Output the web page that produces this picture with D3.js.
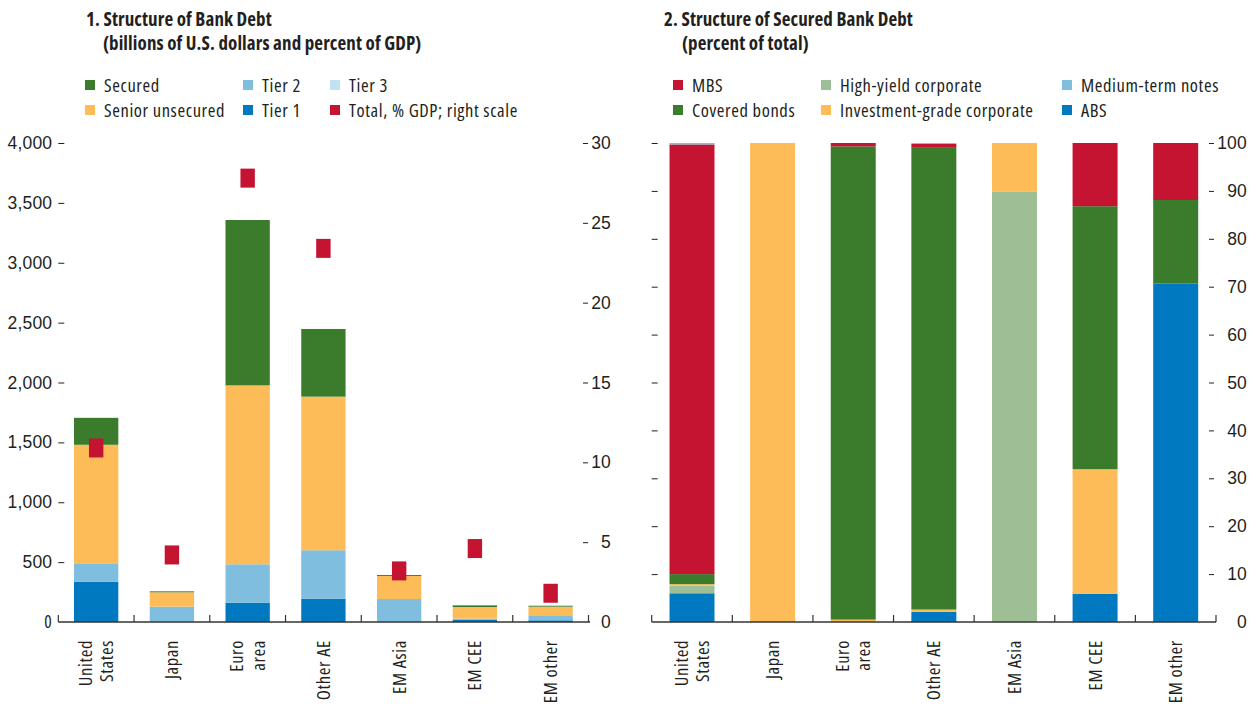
<!DOCTYPE html>
<html lang="en">
<head>
    <meta charset="UTF-8">
    <title>Structure of Bank Debt</title>
    <script src="https://cdn.jsdelivr.net/npm/d3@7"></script>
    <style>
        body { margin: 0; background: #fff; }
        svg text { fill: #231f20; }
        .axis path.domain { display: none; }
        .axis line { stroke: #231f20; }
        .title { font-weight: bold; font-size: 19px; letter-spacing: 0.1px; }
        .legend text, .xlab { font-size: 18.5px; letter-spacing: 0.6px; }
        .tick text { font-size: 17.5px; letter-spacing: 0.2px; }
    </style>
</head>
<body>
<div id="charts"></div>
<script>
    // ---- data ----
    const categories = ["United States", "Japan", "Euro area", "Other AE", "EM Asia", "EM CEE", "EM other"];
    const categoryLines = [["United", "States"], ["Japan"], ["Euro", "area"], ["Other AE"], ["EM Asia"], ["EM CEE"], ["EM other"]];

    // panel 1: billions of U.S. dollars
    const tier1 = [335, 2, 160, 195, 3, 17, 14];
    const tier2 = [155, 126, 322, 404, 189, 11, 36];
    const tier3 = [0, 0, 0, 0, 0, 0, 0];
    const seniorUnsecured = [990, 120, 1494, 1283, 192, 97, 78];
    const secured = [225, 8, 1381, 565, 8, 14, 8];
    const totalGDP = [10.9, 4.2, 27.8, 23.4, 3.2, 4.6, 1.8]; // right scale, % of GDP

    // panel 2: percent of total
    const abs = [6.0, 0, 0, 2.1, 0, 5.9, 70.7];
    const highYield = [1.6, 0, 0, 0, 89.8, 0, 0];
    const investmentGrade = [0.3, 100, 0.5, 0.5, 10.2, 26.0, 0];
    const coveredBonds = [2.1, 0, 98.8, 96.4, 0, 54.9, 17.4];
    const mbs = [89.7, 0, 0.7, 0.8, 0, 13.2, 11.9];
    const mediumTermNotes = [0.3, 0, 0, 0.2, 0, 0, 0];

    const leftTicks = [0, 500, 1000, 1500, 2000, 2500, 3000, 3500, 4000];
    const gdpTicks = [0, 5, 10, 15, 20, 25, 30];
    const pctTicks = [0, 10, 20, 30, 40, 50, 60, 70, 80, 90, 100];

    const colors = {
        green: "#3a7b2c", orange: "#fdbc58", lightBlue: "#80bee0", paleBlue: "#c2e1f1",
        blue: "#0079c1", red: "#c41431", sage: "#9ebe96"
    };

    const svg = d3.select("#charts").append("svg")
        .attr("width", 1259).attr("height", 704);

    // pick a condensed sans that is really installed (no web fonts here)
    (function pickFont() {
        const probe = svg.append("text").style("font-size", "20px").text("Senior unsecured corporate");
        const opts = ["'Noto Sans'", "'Open Sans'", "'DejaVu Sans'"];
        let fam = "'Liberation Sans', Arial, sans-serif", ok = false;
        for (const f of opts) {
            probe.style("font-family", f).style("font-stretch", "normal");
            const w0 = probe.node().getComputedTextLength();
            probe.style("font-stretch", "condensed");
            const w1 = probe.node().getComputedTextLength();
            if (w1 < 0.93 * w0) { fam = f + ", sans-serif"; ok = true; break; }
        }
        probe.remove();
        svg.style("font-family", fam).style("font-stretch", ok ? "condensed" : "normal");
    })();

    const yTop = 143, yBase = 622;

    // ---- helpers ----
    function title(x, y, l1, l2, indent) {
        svg.append("text").attr("class", "title").attr("x", x).attr("y", y).text(l1);
        svg.append("text").attr("class", "title").attr("x", x + indent).attr("y", y + 24).text(l2);
    }

    function legend(items) {
        const g = svg.append("g").attr("class", "legend");
        items.forEach(d => {
            g.append("rect").attr("x", d.x).attr("y", d.y - 5).attr("width", 10).attr("height", 10).attr("fill", d.color);
            g.append("text").attr("x", d.x + 19).attr("y", d.y + 6.5).text(d.label);
        });
    }

    function stacked(x, y, series) {
        const rows = categories.map((c, i) => {
            const r = { cat: c };
            series.forEach(s => r[s.key] = s.values[i]);
            return r;
        });
        const stack = d3.stack().keys(series.map(s => s.key))(rows);
        const g = svg.append("g");
        stack.forEach((layer, li) => {
            g.selectAll(null).data(layer).join("rect")
                .attr("x", d => x(d.data.cat))
                .attr("width", x.bandwidth())
                .attr("y", d => y(d[1]))
                .attr("height", d => Math.max(0, y(d[0]) - y(d[1])))
                .attr("fill", series[li].color);
        });
    }

    function baseline(x, x0, x1) {
        const g = svg.append("g").attr("stroke", "#333").attr("fill", "none");
        g.append("line").attr("x1", x0).attr("x2", x1).attr("y1", yBase).attr("y2", yBase).attr("stroke-width", 1.5);
        const bounds = d3.range(categories.length + 1).map(i => x.range()[0] + i * x.step());
        g.selectAll(null).data(bounds).join("line")
            .attr("x1", d => d).attr("x2", d => d)
            .attr("y1", yBase).attr("y2", yBase - 7).attr("stroke-width", 1.2);
    }

    function xLabels(x) {
        categories.forEach((c, i) => {
            const lines = categoryLines[i];
            const t = svg.append("text").attr("class", "xlab")
                .attr("text-anchor", "end")
                .attr("transform", "translate(" + (x(c) + x.bandwidth() / 2) + ",640) rotate(-90)");
            lines.forEach((l, j) => {
                const off = (j - (lines.length - 1) / 2) * 21.5;
                t.append("tspan").attr("x", 0).attr("y", off).attr("dy", "0.35em").text(l);
            });
        });
    }

    // ================= panel 1 =================
    title(86, 26, "1. Structure of Bank Debt", "(billions of U.S. dollars and percent of GDP)", 17);
    legend([
        { x: 85, y: 85, color: colors.green, label: "Secured" },
        { x: 85, y: 110, color: colors.orange, label: "Senior unsecured" },
        { x: 243, y: 85, color: colors.lightBlue, label: "Tier 2" },
        { x: 243, y: 110, color: colors.blue, label: "Tier 1" },
        { x: 330, y: 85, color: colors.paleBlue, label: "Tier 3" },
        { x: 330, y: 110, color: colors.red, label: "Total, % GDP; right scale" }
    ]);

    const x1 = d3.scaleBand().domain(categories).range([58.3, 588.5]).paddingInner(0.415).paddingOuter(0.2075);
    const y1 = d3.scaleLinear().domain([0, 4000]).range([yBase, yTop]);
    const y1r = d3.scaleLinear().domain([0, 30]).range([yBase, yTop]);

    stacked(x1, y1, [
        { key: "tier1", values: tier1, color: colors.blue },
        { key: "tier2", values: tier2, color: colors.lightBlue },
        { key: "tier3", values: tier3, color: colors.paleBlue },
        { key: "senior", values: seniorUnsecured, color: colors.orange },
        { key: "secured", values: secured, color: colors.green }
    ]);

    // total % of GDP markers
    svg.append("g").selectAll("rect").data(totalGDP).join("rect")
        .attr("x", (d, i) => x1(categories[i]) + x1.bandwidth() / 2 - 7.2)
        .attr("y", d => y1r(d) - 9.5)
        .attr("width", 14.4).attr("height", 19)
        .attr("fill", colors.red);

    svg.append("g").attr("class", "axis").attr("transform", "translate(58.3,0)")
        .call(d3.axisLeft(y1).tickValues(leftTicks.filter(d => d > 0)).tickSize(-6).tickPadding(6).tickFormat(d3.format(",")));
    svg.append("g").attr("class", "tick").append("text").attr("x", 52).attr("y", yBase).attr("dy", "0.32em")
        .attr("text-anchor", "end").text("0");

    const ax1r = svg.append("g").attr("class", "axis").attr("transform", "translate(588,0)")
        .call(d3.axisRight(y1r).tickValues(gdpTicks).tickSize(-5));
    ax1r.selectAll(".tick text").attr("x", 23).attr("text-anchor", "end");
    ax1r.selectAll(".tick").filter(d => d === 0).select("line").remove();

    baseline(x1, 58.3, 590);
    xLabels(x1);

    // ================= panel 2 =================
    title(664, 26, "2. Structure of Secured Bank Debt", "(percent of total)", 18);
    legend([
        { x: 673, y: 85, color: colors.red, label: "MBS" },
        { x: 673, y: 110, color: colors.green, label: "Covered bonds" },
        { x: 821, y: 85, color: colors.sage, label: "High-yield corporate" },
        { x: 821, y: 110, color: colors.orange, label: "Investment-grade corporate" },
        { x: 1062, y: 85, color: colors.lightBlue, label: "Medium-term notes" },
        { x: 1062, y: 110, color: colors.blue, label: "ABS" }
    ]);

    const x2 = d3.scaleBand().domain(categories).range([651.7, 1216]).paddingInner(0.442).paddingOuter(0.221);
    const y2 = d3.scaleLinear().domain([0, 100]).range([yBase, yTop]);

    stacked(x2, y2, [
        { key: "abs", values: abs, color: colors.blue },
        { key: "hy", values: highYield, color: colors.sage },
        { key: "ig", values: investmentGrade, color: colors.orange },
        { key: "covered", values: coveredBonds, color: colors.green },
        { key: "mbs", values: mbs, color: colors.red },
        { key: "mtn", values: mediumTermNotes, color: colors.lightBlue }
    ]);

    svg.append("g").attr("class", "axis").attr("transform", "translate(651.7,0)")
        .call(d3.axisLeft(y2).tickValues(pctTicks.filter(d => d > 0)).tickSize(-6).tickFormat(""));
    const ax2r = svg.append("g").attr("class", "axis").attr("transform", "translate(1214,0)")
        .call(d3.axisRight(y2).tickValues(pctTicks).tickSize(-5));
    ax2r.selectAll(".tick text").attr("x", 33).attr("text-anchor", "end");
    ax2r.selectAll(".tick").filter(d => d === 0).select("line").remove();

    baseline(x2, 651.7, 1216);
    xLabels(x2);
</script>
</body>
</html>
